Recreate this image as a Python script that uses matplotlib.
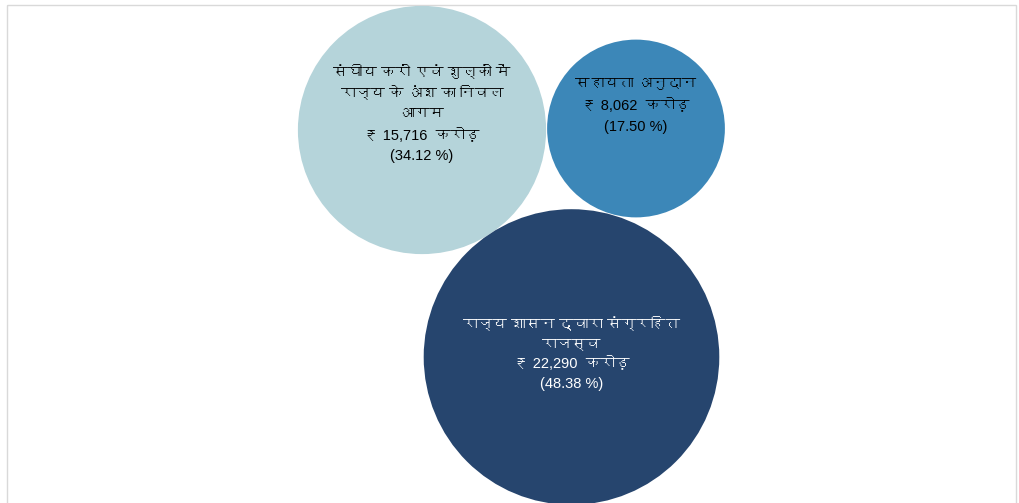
import numpy as np
import matplotlib
matplotlib.use("Agg")
import matplotlib.pyplot as plt
from matplotlib import font_manager, ft2font
from matplotlib.patches import Circle, Rectangle

# revenue sources (crore rupees) and shares
labels = [
    "संघीय करों एवं शुल्कों में\nराज्य के अंश का निवल\nआगम",
    "सहायता अनुदान",
    "राज्य शासन द्वारा संग्रहित\nराजस्व",
]
amounts = [15716, 8062, 22290]
amount_text = ["15,716", "8,062", "22,290"]
shares = [34.12, 17.50, 48.38]


def find_devanagari_family():
    # first installed font that carries the Devanagari block
    for f in font_manager.fontManager.ttflist:
        try:
            ft = ft2font.FT2Font(f.fname)
            if 0x0915 in ft.get_charmap():
                return f.name
        except Exception:
            continue
    return None


deva = find_devanagari_family()
families = ["Liberation Sans"] + ([deva] if deva else []) + ["DejaVu Sans"]

W, H = 1019, 503
fig = plt.figure(figsize=(W / 100, H / 100), dpi=100)
ax = fig.add_axes([0, 0, 1, 1])
ax.set_xlim(0, W)
ax.set_ylim(H, 0)
ax.axis("off")

# chart frame
ax.add_patch(Rectangle((7, 5), 1009, 520, fill=False, edgecolor="#d9d9d9", lw=1.0))

centers = [(422, 130), (636, 128.5), (571.5, 357)]
colors = ["#b5d4da", "#3c87b8", "#26456e"]
text_colors = ["black", "black", "white"]
scale = 0.99  # pixels per sqrt(crore)

for (cx, cy), amt, col in zip(centers, amounts, colors):
    r = scale * np.sqrt(amt)
    ax.add_patch(Circle((cx, cy), r, facecolor=col, edgecolor="none"))

text_tops = [72, 83, 324]
line_gaps = [21, 22, 20]
for (cx, cy), lab, at, sh, tc, top, gap in zip(centers, labels, amount_text, shares,
                                                text_colors, text_tops, line_gaps):
    lines = lab.split("\n") + ["₹ %s  करोड़" % at, "(%.2f %%)" % sh]
    for i, ln in enumerate(lines):
        ax.text(cx, top + i * gap, ln, ha="center", va="center",
                fontsize=10.5, color=tc, family=families)

fig.savefig("out.png", dpi=100)
